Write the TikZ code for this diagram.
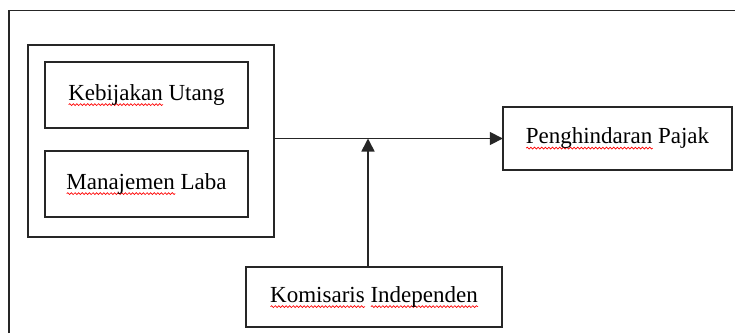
\documentclass[tikz,border=0pt]{standalone}
\usepackage{fontspec}
\setmainfont{Liberation Serif}
\usetikzlibrary{arrows.meta,decorations.pathmorphing}

%% red wavy spell-check underline
\newsavebox\spellbox
\newcommand\spellerr[1]{\sbox\spellbox{#1}%
  \rlap{\raisebox{-4.5pt}{\tikz[baseline=0pt]\draw[red,line width=0.7pt,
      decorate,decoration={snake,amplitude=0.9pt,segment length=3.6pt}]
      (0pt,0pt) -- (\wd\spellbox,0pt);}}\usebox\spellbox}

\begin{document}
\begin{tikzpicture}[x=1pt,y=-1pt,line width=1.6pt,
    font=\fontsize{23}{27}\selectfont,
    varbox/.style={draw=black!85,inner sep=0pt,align=center},
    flow/.style={draw=black!85,-{Triangle[length=13pt,width=13pt]}}]
  \useasboundingbox (0,0) rectangle (735,333);

  %% outer frame (cut off at the right and bottom)
  \draw[black!85] (9,333) -- (9,10.5) -- (735,10.5);

  %% independent variables
  \node (GRP) at (151,141) [varbox,minimum width=246pt,minimum height=192pt] {};
  \node (UTANG) at (146.5,95) [varbox,minimum width=203pt,minimum height=66pt]
        {\spellerr{Kebijakan} Utang};
  \node (LABA) at (146.5,184) [varbox,minimum width=203pt,minimum height=66pt]
        {\spellerr{Manajemen} Laba};

  %% dependent variable
  \node (PAJAK) at (617.5,138.5) [varbox,minimum width=229pt,minimum height=63pt]
        {\spellerr{Penghindaran} Pajak};

  %% moderating variable
  \node (KOMIS) at (374,297) [varbox,minimum width=256pt,minimum height=60pt]
        {\spellerr{Komisaris} \spellerr{Independen}};

  \coordinate (MOD) at (368,138.5);
  \draw[flow] (GRP.east |- PAJAK.west) -- (PAJAK.west);
  \draw[flow] (KOMIS.north -| MOD) -- (MOD);

\end{tikzpicture}
\end{document}
